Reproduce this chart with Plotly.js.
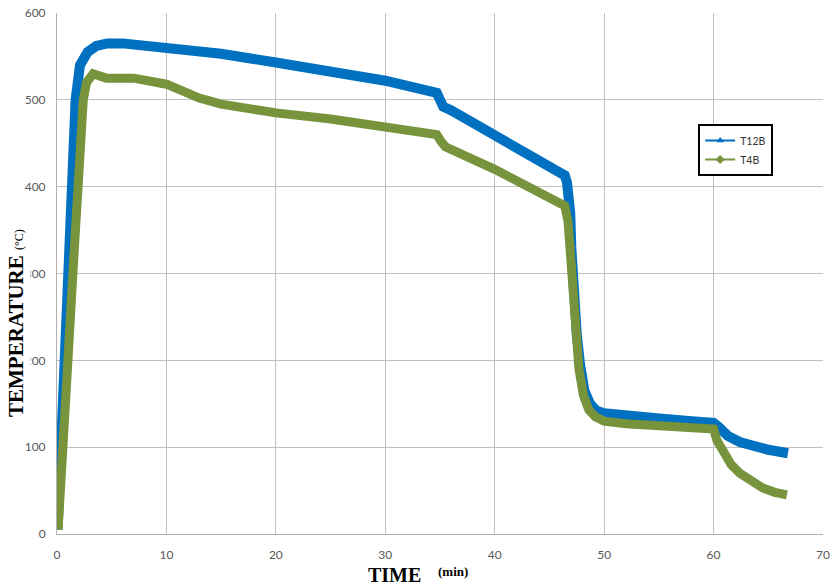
<!DOCTYPE html>
<html>
<head>
<meta charset="utf-8">
<script src="https://cdn.plot.ly/plotly-3.0.1.min.js"></script>
<style>html,body{margin:0;padding:0;background:#fff;}#chart{width:833px;height:587px;}</style>
</head>
<body>
<div id="chart"></div>
<script>
// T12B (blue) time in minutes, temperature in °C
var t12bTime = [0.05, 0.33, 0.68, 0.98, 1.3, 1.7, 2.1, 2.8, 3.6, 4.6, 6, 10, 15, 20, 25, 30, 34.7, 35.0, 35.3, 36, 40, 44, 46.4, 46.6, 46.9, 47.0, 47.2, 47.5, 47.8, 48.2, 48.7, 49.3, 50, 52, 55, 58, 60, 60.5, 61.3, 62.4, 63.5, 65, 66.8];
var t12bTemp = [5, 100, 200, 300, 400, 500, 540, 555, 562, 565, 565, 560, 553, 543, 533, 522, 508, 500, 492, 488, 460, 432, 413, 405, 370, 330, 280, 230, 195, 165, 150, 142, 139, 136, 133, 130, 128, 123, 113, 106, 101, 97, 93];
// T4B (green)
var t4bTime = [0.1, 0.46, 1.0, 1.45, 1.9, 2.4, 2.7, 3.3, 4.5, 7, 10, 13, 15, 20, 25, 30, 34.7, 35.1, 35.5, 40, 44, 46.4, 46.7, 46.9, 47.1, 47.4, 47.7, 48.1, 48.6, 49.2, 50, 52, 55, 58, 60, 60.3, 60.9, 61.6, 62.4, 63.4, 64.5, 65.6, 66.7];
var t4bTemp = [5, 100, 200, 300, 400, 500, 520, 530, 525, 525, 518, 502, 495, 485, 478, 470, 460, 452, 446, 420, 393, 378, 360, 320, 280, 230, 190, 160, 143, 135, 130, 127, 125, 123, 121, 108, 93, 80, 70, 61, 53, 48, 45];

var xTicks = [0, 10, 20, 30, 40, 50, 60, 70];
var yTicks = [0, 100, 200, 300, 400, 500, 600];

var blue = '#0070C0';
var green = '#77933C';

var traces = [
  {x: t12bTime, y: t12bTemp, type: 'scatter', mode: 'lines', line: {color: blue, width: 10}, showlegend: false, hoverinfo: 'skip'},
  {x: t4bTime, y: t4bTemp, type: 'scatter', mode: 'lines', line: {color: green, width: 9}, showlegend: false, hoverinfo: 'skip'},
  {x: [null], y: [null], type: 'scatter', mode: 'lines+markers', name: 'T12B', line: {color: blue, width: 2}, marker: {symbol: 'triangle-up', size: 7, color: blue}},
  {x: [null], y: [null], type: 'scatter', mode: 'lines+markers', name: 'T4B', line: {color: green, width: 2}, marker: {symbol: 'diamond', size: 7, color: green}}
];

var tickFont = {family: 'Lato, "Liberation Sans", sans-serif', size: 12, color: '#595959'};

var layout = {
  width: 833, height: 587,
  margin: {l: 57, r: 10, t: 13, b: 53},
  paper_bgcolor: '#ffffff', plot_bgcolor: '#ffffff',
  showlegend: true,
  xaxis: {
    range: [0, 70], tickvals: xTicks, ticktext: xTicks.map(String),
    showgrid: true, gridcolor: '#c0c0c0', gridwidth: 1,
    showline: true, linecolor: '#b0b0b0', linewidth: 1,
    zeroline: false, ticks: '', tickfont: tickFont, ticklabelstandoff: 10,
    fixedrange: true
  },
  yaxis: {
    range: [0, 600], tickvals: yTicks, ticktext: yTicks.map(String),
    showgrid: true, gridcolor: '#c0c0c0', gridwidth: 1,
    showline: true, linecolor: '#b0b0b0', linewidth: 1,
    zeroline: false, ticks: '', tickfont: tickFont, ticklabelstandoff: 8,
    fixedrange: true
  },
  legend: {
    x: 0.837, y: 0.787, xanchor: 'left', yanchor: 'top',
    bgcolor: '#ffffff', bordercolor: '#000000', borderwidth: 2,
    font: {family: 'Lato, "Liberation Sans", sans-serif', size: 10.5, color: '#333333'},
    tracegroupgap: 0
  },
  annotations: [
    {
      xref: 'paper', yref: 'paper', x: -0.0535, y: 0.405, xanchor: 'center', yanchor: 'middle',
      textangle: -90, showarrow: false, bgcolor: '#ffffff', borderpad: 2,
      text: '<b>TEMPERATURE</b> <span style="font-size:12px">(°C)</span>',
      font: {family: '"Liberation Serif", "Times New Roman", serif', size: 21, color: '#000000'}
    },
    {
      xref: 'paper', yref: 'paper', x: 0.441, y: -0.0787, xanchor: 'center', yanchor: 'middle',
      showarrow: false, text: '<b>TIME</b>',
      font: {family: '"Liberation Serif", "Times New Roman", serif', size: 20, color: '#000000'}
    },
    {
      xref: 'paper', yref: 'paper', x: 0.517, y: -0.0729, xanchor: 'center', yanchor: 'middle',
      showarrow: false, text: '<b>(min)</b>',
      font: {family: '"Liberation Serif", "Times New Roman", serif', size: 13, color: '#000000'}
    }
  ]
};

Plotly.newPlot('chart', traces, layout, {displayModeBar: false, staticPlot: true});
</script>
</body>
</html>
